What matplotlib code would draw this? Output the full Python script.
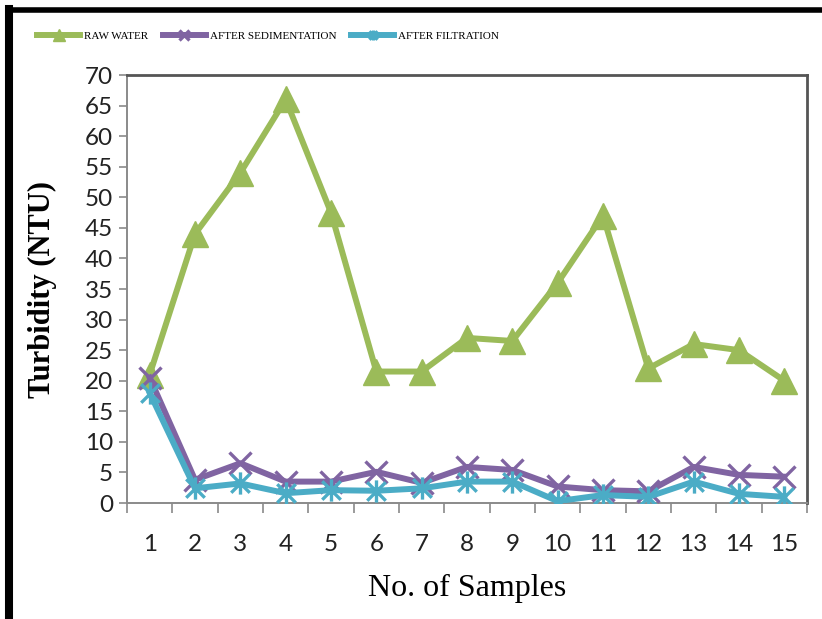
import numpy as np
import matplotlib
matplotlib.use("Agg")
import matplotlib.pyplot as plt
from matplotlib.path import Path
from matplotlib.lines import Line2D

# -----------------------------
# Turbidity readings (NTU)
# -----------------------------
samples = list(range(1, 16))
raw_water = [21, 44, 54, 66, 47.5, 21.5, 21.5, 27, 26.5, 36, 47, 22, 26, 25, 20]
after_sedimentation = [20.5, 3.8, 6.5, 3.5, 3.5, 5.1, 3.3, 5.9, 5.4, 2.7, 2.1, 1.9, 5.9, 4.6, 4.3]
after_filtration = [18, 2.4, 3.2, 1.6, 2.1, 2.0, 2.4, 3.5, 3.5, 0.3, 1.3, 1.0, 3.5, 1.5, 1.0]

series_names = ["RAW WATER", "AFTER SEDIMENTATION", "AFTER FILTRATION"]
y_ticks = list(range(0, 75, 5))

# Excel-style star: an X with a vertical stroke through it
star = Path(
    [(-1, -1), (1, 1), (-1, 1), (1, -1), (0, -1.2), (0, 1.2)],
    [Path.MOVETO, Path.LINETO, Path.MOVETO, Path.LINETO, Path.MOVETO, Path.LINETO],
)

fig = plt.figure(figsize=(8.22, 6.19), dpi=100)
ax = fig.add_axes([127 / 822, 1 - 503 / 619, 680 / 822, 428 / 619])

ax.plot(samples, raw_water, color="#9BBB59", lw=4.3, marker="^", ms=19,
        label=series_names[0], zorder=3)
ax.plot(samples, after_sedimentation, color="#8064A2", lw=4.3, marker="x", ms=16,
        mew=2.4, label=series_names[1], zorder=4)
ax.plot(samples, after_filtration, color="#4BACC6", lw=4.3, marker=star, ms=16,
        mew=2.4, label=series_names[2], zorder=5)

ax.set_xlim(0.5, 15.5)
ax.set_ylim(0, 70)
ax.set_yticks(y_ticks)
ax.set_xticks(samples)
ax.set_xticks(np.arange(0.5, 16, 1), minor=True)

ax.tick_params(axis="y", direction="out", length=6, width=1.2, color="#8a8a8a",
               labelsize=17.5, pad=4)
ax.tick_params(axis="x", which="major", length=0, labelsize=17.5, pad=22)
ax.tick_params(axis="x", which="minor", direction="out", length=7, width=1.2,
               color="#8a8a8a")
for lbl in ax.get_xticklabels() + ax.get_yticklabels():
    lbl.set_family(["Lato", "DejaVu Sans"])
    lbl.set_color("#222222")

for side in ("left", "bottom"):
    ax.spines[side].set_color("#8a8a8a")
    ax.spines[side].set_linewidth(1.4)
for side in ("top", "right"):
    ax.spines[side].set_color("#555555")
    ax.spines[side].set_linewidth(2)

ax.set_ylabel("Turbidity (NTU)", family="Liberation Serif", fontweight="bold",
              fontsize=22, labelpad=20)
ax.set_xlabel("No. of Samples", family="Liberation Serif", fontsize=23, labelpad=14)

fig.legend(loc="center left", bbox_to_anchor=(27 / 822, 1 - 36 / 619), ncol=3,
           frameon=False, prop={"family": "Liberation Serif", "size": 8},
           handlelength=3.9, handletextpad=0.35, columnspacing=1.3, markerscale=0.45)

# thick frame along the left and top edges
fig.add_artist(Line2D([9 / 822, 9 / 822], [0, 1 - 9 / 619], transform=fig.transFigure,
                      color="black", lw=5.8, solid_capstyle="projecting"))
fig.add_artist(Line2D([9 / 822, 1], [1 - 9.5 / 619, 1 - 9.5 / 619],
                      transform=fig.transFigure, color="black", lw=4))

fig.savefig("out.png", dpi=100)
